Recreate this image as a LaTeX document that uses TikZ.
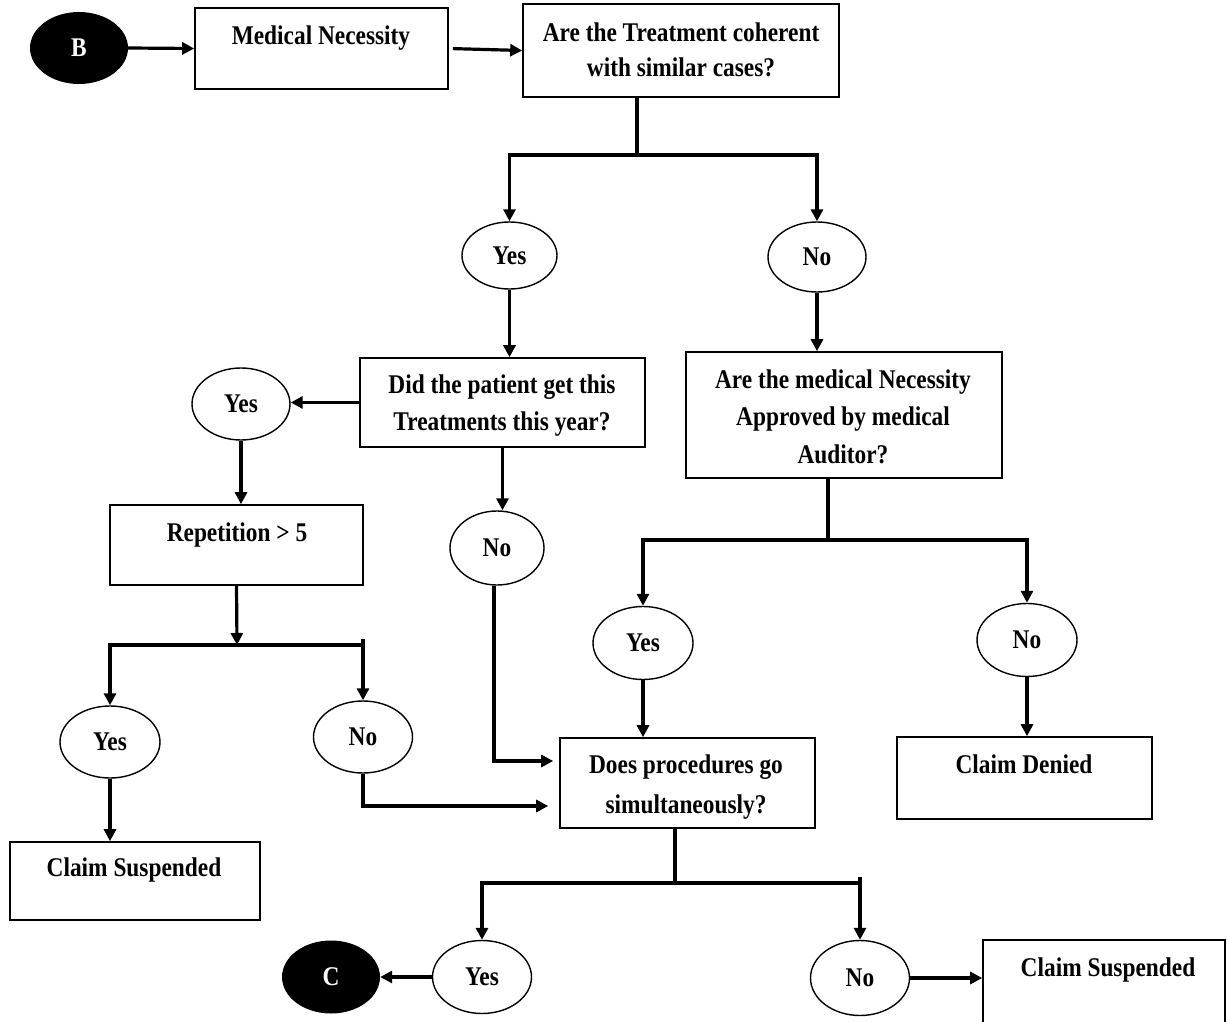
\documentclass[tikz,border=0pt]{standalone}
\usepackage{fontspec}
\setmainfont{Liberation Serif}[FakeStretch=0.865]
\usetikzlibrary{shapes.geometric,arrows.meta,calc}

\begin{document}
\begin{tikzpicture}[x=1pt,y=-1pt,
  font=\fontsize{27}{36}\selectfont\bfseries,
  box/.style={draw, line width=1.6pt, inner sep=0},
  oval/.style={draw, ellipse, line width=1.4pt, inner sep=0},
  term/.style={fill=black, ellipse, inner sep=0, text=white},
  txt/.style={anchor=base, inner sep=0},
  ln/.style={line width=3.2pt},
  arr/.style={line width=3.2pt, -{Triangle[length=12pt,width=12pt]}},
]
\useasboundingbox[fill=white] (0,0) rectangle (1227,1022);

% ---- boxes ----
\node[box, minimum width=253, minimum height=81] (med)  at (321.5,48.5) {};
\node[box, minimum width=316, minimum height=93] (q1)   at (681,50.5) {};
\node[box, minimum width=285, minimum height=89] (did)  at (502.5,402.5) {};
\node[box, minimum width=316, minimum height=126] (aud) at (844,415) {};
\node[box, minimum width=253, minimum height=80] (rep)  at (236.5,545) {};
\node[box, minimum width=255, minimum height=90] (does) at (687.5,783) {};
\node[box, minimum width=255, minimum height=82] (cd)   at (1024.5,778) {};
\node[box, minimum width=250, minimum height=78] (cs1)  at (135,881) {};
\node[box, minimum width=242, minimum height=100] (cs2) at (1104,990) {};

% ---- box texts ----
\node[txt] (medt)  at (321,45)  {Medical Necessity};
\node[txt] (q1a)   at (681,42)  {Are the Treatment coherent};
\node[txt] (q1b)   at (681,77)  {with similar cases?};
\node[txt] (dida)  at (502,393) {Did the patient get this};
\node[txt] (didb)  at (502,430) {Treatments this year?};
\node[txt] (auda)  at (843,388) {Are the medical Necessity};
\node[txt] (audb)  at (843,425) {Approved by medical};
\node[txt] (audc)  at (843,463) {Auditor?};
\node[txt] (rept)  at (237,541) {Repetition > 5};
\node[txt] (doesa) at (686,773) {Does procedures go};
\node[txt] (doesb) at (686,813) {simultaneously?};
\node[txt] (cdt)   at (1024,773) {Claim Denied};
\node[txt] (cs1t)  at (134,876) {Claim Suspended};
\node[txt] (cs2t)  at (1108,976) {Claim Suspended};

% ---- terminals and answers ----
\node[term, minimum width=98, minimum height=72] (B) at (79,48) {B};
\node[term, minimum width=98, minimum height=73] (C) at (331,977) {C};

\node[oval, minimum width=95, minimum height=67]  (y1) at (509.5,255.5) {Yes};
\node[oval, minimum width=98, minimum height=70]  (n1) at (817,257) {No};
\node[oval, minimum width=98, minimum height=72]  (y2) at (241,404) {Yes};
\node[oval, minimum width=94, minimum height=74]  (n2) at (497,548) {No};
\node[oval, minimum width=100, minimum height=73] (y4) at (643,643) {Yes};
\node[oval, minimum width=100, minimum height=73] (n4) at (1027,640) {No};
\node[oval, minimum width=100, minimum height=72] (y3) at (110,742) {Yes};
\node[oval, minimum width=99, minimum height=72]  (n3) at (363,737) {No};
\node[oval, minimum width=99, minimum height=73]  (y5) at (482,977) {Yes};
\node[oval, minimum width=99, minimum height=75]  (n5) at (860,978) {No};

% ---- junctions ----
\coordinate (j1) at (637,155);
\coordinate (j2) at (237,645);
\coordinate (j3) at (828,540);
\coordinate (j4) at (675,883);

% ---- connectors ----
\draw[arr] (B.east) -- (med.west);
\draw[arr, shorten <=4pt] (med.east) -- (q1.west);

\draw[ln] (j1 |- q1.south) -- (j1);
\draw[arr] (j1) -| (y1.north);
\draw[arr] (j1) -| (n1.north);

\draw[arr] (y1.south) -- (y1.south |- did.north);
\draw[arr] (did.west) -- (did.west -| y2.east);
\draw[arr] (y2.south) -- (y2.south |- rep.north);
\draw[arr] (did.south) -- (did.south |- n2.north);
\draw[arr] (n1.south) -- (n1.south |- aud.north);

\draw[arr] (rep.south) -- (j2);
\draw[arr] (j2) -| (y3.north);
\draw[arr] (j2) -| (n3.north);
\draw[ln] (n3.north |- j2) -- ++(0,-6);

\draw[arr] (y3.south) -- (y3.south |- cs1.north);
\draw[arr] (n3.south) |- ($(does.west)+(-11,23)$);
\draw[arr] ($(n2.south)+(-3,0)$) |- ($(does.west)+(-6,-22)$);

\draw[ln] (j3 |- aud.south) -- (j3);
\draw[arr] (j3) -| (y4.north);
\draw[arr] (j3) -| (n4.north);
\draw[arr] (y4.south) -- (y4.south |- does.north);
\draw[arr] (n4.south) -- (n4.south |- cd.north);

\draw[ln] (j4 |- does.south) -- (j4);
\draw[arr] (j4) -| (y5.north);
\draw[arr] (j4) -| (n5.north);
\draw[ln] (n5.north |- j4) -- ++(0,-6);

\draw[arr] (y5.west) -- (C.east);
\draw[arr] (n5.east) -- (n5.east -| cs2.west);
\end{tikzpicture}
\end{document}
